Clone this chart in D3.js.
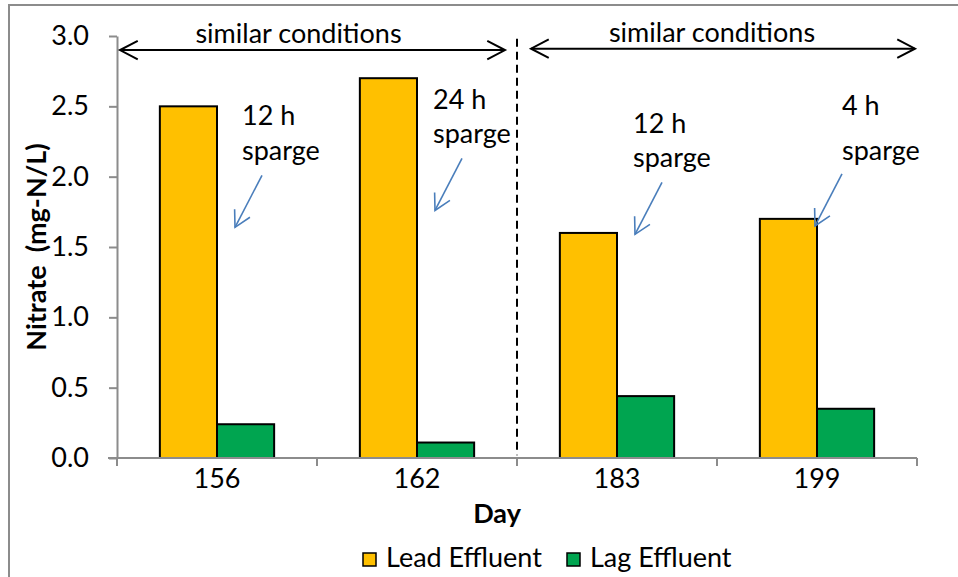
<!DOCTYPE html>
<html>
<head>
<meta charset="utf-8">
<script src="https://cdn.jsdelivr.net/npm/d3@7"></script>
<style>
  html, body { margin: 0; padding: 0; background: #fff; }
  svg { display: block; }
  text { font-family: Lato, "Open Sans", sans-serif; fill: #000; }
</style>
</head>
<body>
<svg id="chart" width="958" height="577"></svg>
<script>
// ---- data ----
const days = ["156", "162", "183", "199"];
const seriesNames = ["Lead Effluent", "Lag Effluent"];
const leadEffluent = [2.5, 2.7, 1.6, 1.7];
const lagEffluent = [0.24, 0.11, 0.44, 0.35];
const yTicks = [0, 0.5, 1.0, 1.5, 2.0, 2.5, 3.0];
const colors = ["#FFC000", "#00A550"];
const annotations = [
  { day: "156", line1: "12 h", line2: "sparge", tipValue: 1.64 },
  { day: "162", line1: "24 h", line2: "sparge", tipValue: 1.76 },
  { day: "183", line1: "12 h", line2: "sparge", tipValue: 1.59 },
  { day: "199", line1: "4 h",  line2: "sparge", tipValue: 1.65 }
];
const periods = [
  { label: "similar conditions", from: "156", to: "162" },
  { label: "similar conditions", from: "183", to: "199" }
];

// ---- layout ----
const W = 958, H = 577;
const plot = { left: 117, right: 917, top: 36, bottom: 458 };
const FS = 27;

const svg = d3.select("#chart");

// chart border (extends past right/bottom edges)
svg.append("rect")
  .attr("x", 9).attr("y", 5).attr("width", 980).attr("height", 600)
  .attr("fill", "none").attr("stroke", "#8c8c8c").attr("stroke-width", 2);

const x0 = d3.scaleBand().domain(days).range([plot.left, plot.right]).paddingInner(0).paddingOuter(0);
const x1 = d3.scaleBand().domain(seriesNames).range([0, x0.bandwidth()]).paddingInner(0).paddingOuter(0.75);
const y = d3.scaleLinear().domain([0, 3]).range([plot.bottom, plot.top]);

const rows = days.map((d, i) => ({ day: d, values: [leadEffluent[i], lagEffluent[i]] }));

// bars
const groups = svg.append("g").selectAll("g").data(rows).join("g")
  .attr("transform", d => `translate(${x0(d.day)},0)`);
groups.selectAll("rect").data(d => d.values.map((v, j) => ({ key: seriesNames[j], v, j })))
  .join("rect")
  .attr("x", d => x1(d.key))
  .attr("y", d => y(d.v))
  .attr("width", x1.bandwidth())
  .attr("height", d => y(0) - y(d.v))
  .attr("fill", d => colors[d.j])
  .attr("stroke", "#000").attr("stroke-width", 2);

// y axis
const yAxis = svg.append("g").attr("transform", `translate(${plot.left},0)`)
  .call(d3.axisLeft(y).tickValues(yTicks).tickFormat(d3.format(".1f")).tickSize(8).tickPadding(20).tickSizeOuter(0));
yAxis.select(".domain").attr("stroke", "#8c8c8c").attr("stroke-width", 2);
yAxis.selectAll(".tick line").attr("stroke", "#8c8c8c").attr("stroke-width", 2);
yAxis.selectAll("text").style("font-size", FS + "px").attr("font-family", "Lato");

// x axis
const xAxis = svg.append("g").attr("transform", `translate(0,${plot.bottom})`)
  .call(d3.axisBottom(x0).tickSize(0).tickPadding(11).tickSizeOuter(0));
xAxis.select(".domain").attr("stroke", "#8c8c8c").attr("stroke-width", 2)
  .attr("d", `M${plot.left - 9},0H${plot.right}`);
xAxis.selectAll("text").style("font-size", FS + "px").attr("font-family", "Lato");
const boundaries = days.map(d => x0(d)).concat([plot.right]);
xAxis.selectAll(".bound").data(boundaries).join("line").attr("class", "bound")
  .attr("x1", d => d).attr("x2", d => d).attr("y1", 0).attr("y2", 8)
  .attr("stroke", "#8c8c8c").attr("stroke-width", 2);

// axis titles
svg.append("text")
  .attr("x", (plot.left + plot.right) / 2 - 20).attr("y", 523)
  .attr("text-anchor", "middle").attr("font-weight", "bold")
  .style("font-size", "27px").text("Day");
svg.append("text")
  .attr("transform", `translate(46,${(plot.top + plot.bottom) / 2}) rotate(-90)`)
  .attr("text-anchor", "middle").attr("font-weight", "bold")
  .style("font-size", "27px").text("Nitrate\u00a0\u00a0(mg-N/L)");

// dashed divider between periods
const divX = x0("183");
svg.append("line")
  .attr("x1", divX).attr("x2", divX).attr("y1", y(2.98)).attr("y2", y(0.02))
  .attr("stroke", "#000").attr("stroke-width", 2).attr("stroke-dasharray", "8,5");

// double-headed arrows with labels
function openHead(g, tx, ty, angle, len, spread, color, w) {
  const a1 = angle + spread, a2 = angle - spread;
  g.append("path")
    .attr("d", `M${tx + len * Math.cos(a1)},${ty + len * Math.sin(a1)}L${tx},${ty}L${tx + len * Math.cos(a2)},${ty + len * Math.sin(a2)}`)
    .attr("fill", "none").attr("stroke", color).attr("stroke-width", w);
}
const arrowG = svg.append("g");
periods.forEach((p, i) => {
  const xa = x0(p.from) + (i === 0 ? 3 : 14);
  const xb = x0(p.to) + x0.bandwidth() - (i === 0 ? 12 : 2);
  const ya = y(i === 0 ? 2.9 : 2.91);
  arrowG.append("line").attr("x1", xa).attr("x2", xb).attr("y1", ya).attr("y2", ya)
    .attr("stroke", "#000").attr("stroke-width", 2);
  openHead(arrowG, xa, ya, 0, 20, 0.48, "#000", 2);
  openHead(arrowG, xb, ya, Math.PI, 20, 0.48, "#000", 2);
  arrowG.append("text")
    .attr("x", (xa + xb) / 2 - (i === 0 ? 14 : 11)).attr("y", ya - 7)
    .attr("text-anchor", "middle").style("font-size", FS + "px").text(p.label);
});

// sparge annotations
const annG = svg.append("g");
const annLayout = [
  { dx: 25, base1: 125, base2: 160 },
  { dx: 16, base1: 109, base2: 143 },
  { dx: 16, base1: 133, base2: 167 },
  { dx: 25, base1: 115, base2: 160 }
];
annotations.forEach((a, i) => {
  const L = annLayout[i];
  const cx = x0(a.day) + x0.bandwidth() / 2;
  annG.append("text").attr("x", cx + L.dx).attr("y", L.base1).style("font-size", FS + "px").text(a.line1);
  annG.append("text").attr("x", cx + L.dx).attr("y", L.base2).style("font-size", FS + "px").text(a.line2);
  const tipX = x0(a.day) + x1("Lag Effluent") + (i === 3 ? -2 : 18);
  const tipY = y(a.tipValue);
  const tailX = tipX + 27, tailY = tipY - 52;
  annG.append("line").attr("x1", tailX).attr("y1", tailY).attr("x2", tipX).attr("y2", tipY)
    .attr("stroke", "#4A7EBB").attr("stroke-width", 1.6);
  const ang = Math.atan2(tailY - tipY, tailX - tipX);
  openHead(annG, tipX, tipY, ang, 18, 0.5, "#4A7EBB", 1.6);
});

// legend
const legend = svg.append("g");
const legItems = [
  { name: seriesNames[0], color: colors[0], x: 363 },
  { name: seriesNames[1], color: colors[1], x: 567 }
];
legItems.forEach(it => {
  legend.append("rect").attr("x", it.x).attr("y", 553).attr("width", 13).attr("height", 13)
    .attr("fill", it.color).attr("stroke", "#000").attr("stroke-width", 1.5);
  legend.append("text").attr("x", it.x + 23).attr("y", 567).style("font-size", FS + "px").text(it.name);
});
</script>
</body>
</html>
